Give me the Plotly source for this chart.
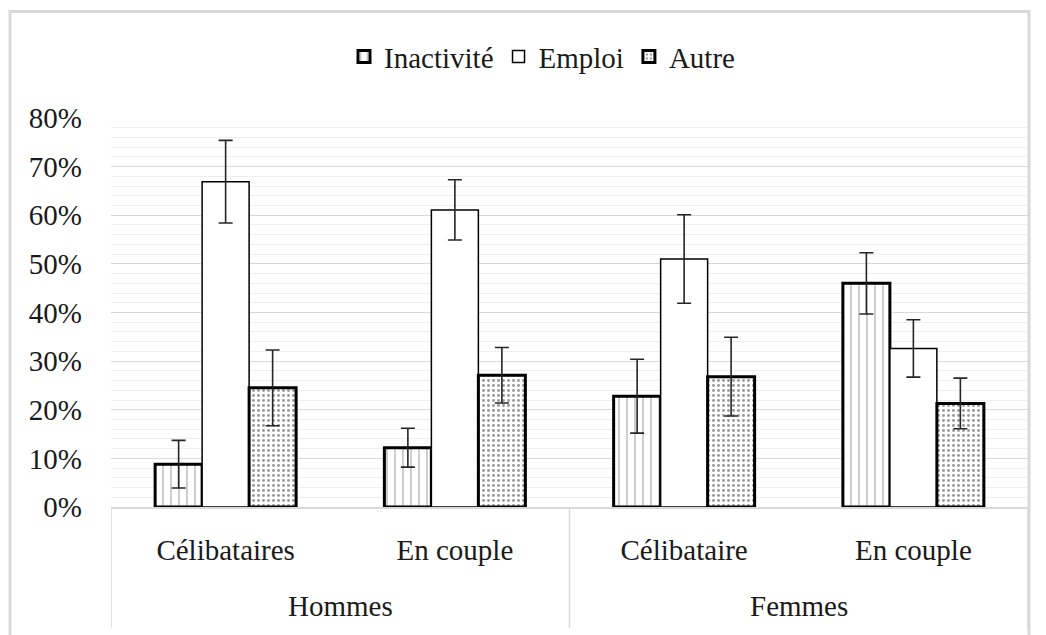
import plotly.graph_objects as go

groups = ['Hommes', 'Femmes']
categories = ['Célibataires', 'En couple', 'Célibataire', 'En couple']
series = ['Inactivité', 'Emploi', 'Autre']

inactivite = [0.088, 0.122, 0.228, 0.460]
inactivite_err = [0.049, 0.040, 0.076, 0.063]
emploi = [0.669, 0.611, 0.510, 0.326]
emploi_err = [0.085, 0.062, 0.091, 0.059]
autre = [0.245, 0.271, 0.268, 0.213]
autre_err = [0.078, 0.057, 0.081, 0.052]

y_ticks = [0, 0.1, 0.2, 0.3, 0.4, 0.5, 0.6, 0.7, 0.8]

# the page body adds an 8px offset, so work in screen pixels minus 8
OFF = 8
W, H = 1046 - OFF, 635 - OFF
L, R, T, B = 111 - OFF, 1028 - OFF, 118.3 - OFF, 507 - OFF


def px_x(p):
    return (p - OFF - L) / (R - L)


def px_y(p):
    return (B - (p - OFF)) / (B - T)


FONT = 'Liberation Serif, Times New Roman, serif'
FS = 29
TXT = '#1a1a1a'
GRID = '#d9d9d9'
x = list(range(len(categories)))

err_style = dict(type='data', thickness=1.6, width=7, color='#262626')

fig = go.Figure()
fig.add_trace(go.Bar(
    x=x, y=inactivite, name=series[0],
    error_y=dict(array=inactivite_err, **err_style),
    marker=dict(
        color='white',
        line=dict(color='black', width=3),
        pattern=dict(shape='|', fgcolor='#444444', bgcolor='white', size=8, solidity=0.13),
    ),
))
fig.add_trace(go.Bar(
    x=x, y=emploi, name=series[1],
    error_y=dict(array=emploi_err, **err_style),
    marker=dict(color='white', line=dict(color='black', width=1.5)),
))
fig.add_trace(go.Bar(
    x=x, y=autre, name=series[2],
    error_y=dict(array=autre_err, **err_style),
    marker=dict(
        color='white',
        line=dict(color='black', width=3),
        pattern=dict(shape='.', fgcolor='#333333', bgcolor='white', size=5, solidity=0.28),
    ),
))

shapes = []
# category dividers below the axis
for xv in [-0.5, 1.5, 3.5]:
    shapes.append(dict(type='line', xref='x', yref='paper', x0=xv, x1=xv,
                       y0=0, y1=px_y(628), line=dict(color=GRID, width=1.5)))
# outer chart border
shapes.append(dict(type='rect', xref='paper', yref='paper',
                   x0=px_x(10), x1=px_x(1029), y0=px_y(660), y1=px_y(12),
                   line=dict(color=GRID, width=3), layer='below'))

annotations = []
for i, g in enumerate(groups):
    annotations.append(dict(x=2 * i + 0.5, xref='x', y=px_y(606), yref='paper',
                            text=g, showarrow=False, yanchor='middle',
                            font=dict(family=FONT, size=FS, color=TXT)))

fig.update_layout(
    width=W, height=H,
    margin=dict(l=L, r=W - R, t=T, b=H - B),
    paper_bgcolor='white', plot_bgcolor='white',
    barmode='group', bargap=0.385, bargroupgap=0,
    font=dict(family=FONT, size=FS, color=TXT),
    legend=dict(orientation='h', x=px_x(542), xanchor='center', y=px_y(57), yanchor='middle',
                font=dict(family=FONT, size=FS, color=TXT), itemwidth=30, traceorder='normal'),
    shapes=shapes,
    annotations=annotations,
    xaxis=dict(
        range=[-0.5, 3.5], tickvals=x, ticktext=categories,
        tickfont=dict(family=FONT, size=FS, color=TXT),
        showgrid=False, zeroline=False, showline=True, linecolor=GRID, linewidth=1.5,
        ticks='', ticklabelstandoff=16,
    ),
    yaxis=dict(
        range=[0, 0.8], tickvals=y_ticks, tickformat='.0%',
        tickfont=dict(family=FONT, size=FS, color=TXT),
        showgrid=True, gridcolor=GRID, gridwidth=1.2, zeroline=False,
        ticklabelstandoff=28,
        minor=dict(dtick=0.02, showgrid=True, gridcolor='#efefef', gridwidth=1),
    ),
)

fig.write_html('out.html')
